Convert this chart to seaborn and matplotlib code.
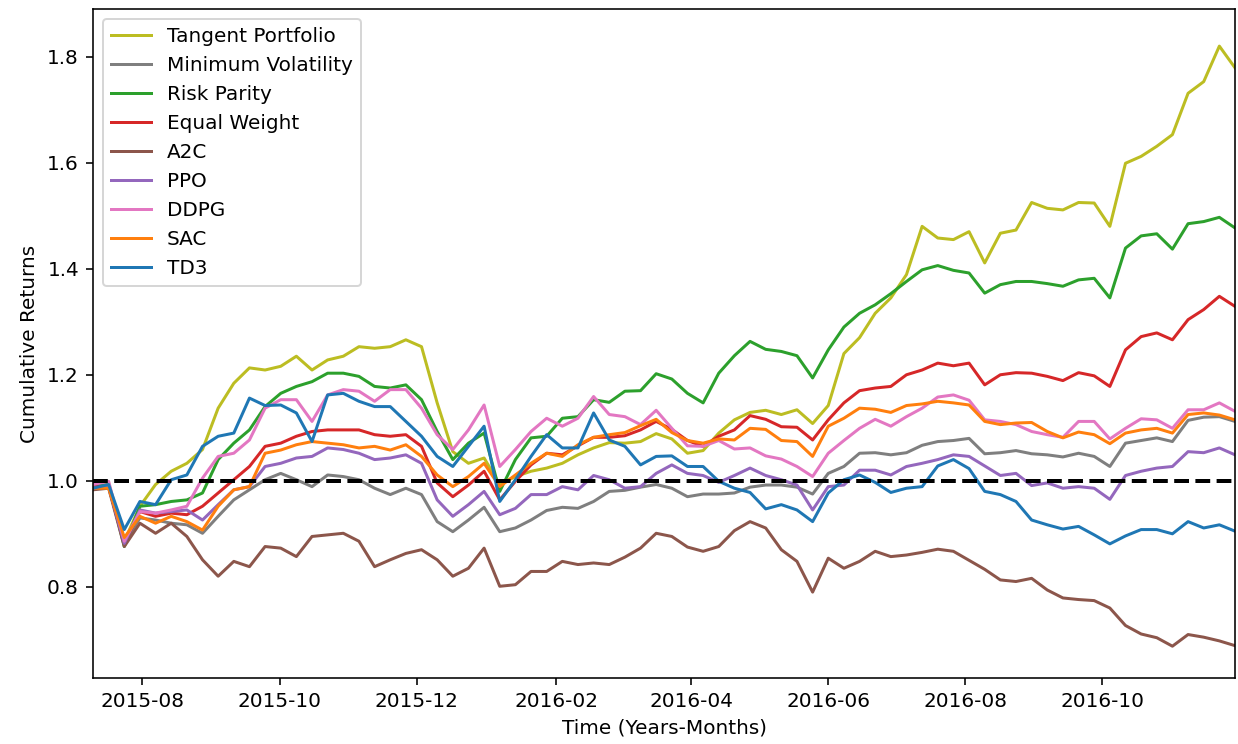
import matplotlib

matplotlib.use("Agg")
import matplotlib.dates as mdates
import matplotlib.pyplot as plt
import pandas as pd
import seaborn as sns

# weekly readings, 2015-07-10 .. 2016-11-29
start_date = "2015-07-10"
end_date = "2016-11-29"

tangent = [
    0.992, 0.996, 0.886, 0.952, 0.993, 1.018, 1.033, 1.059, 1.137, 1.184, 1.213, 1.209,
    1.216, 1.235, 1.209, 1.228, 1.235, 1.253, 1.250, 1.253, 1.266, 1.253, 1.147, 1.055, 1.033,
    1.043, 0.993, 1.008, 1.018, 1.024, 1.033, 1.049, 1.062, 1.072, 1.071, 1.074, 1.089,
    1.079, 1.052, 1.057, 1.090, 1.115, 1.129, 1.133, 1.125, 1.134, 1.108, 1.142, 1.240,
    1.270, 1.316, 1.345, 1.389, 1.480, 1.458, 1.455, 1.470, 1.411, 1.467, 1.473, 1.525,
    1.514, 1.511, 1.525, 1.524, 1.480, 1.599, 1.612, 1.631, 1.653, 1.731, 1.753, 1.820, 1.779,
]
min_vol = [
    0.990, 0.989, 0.882, 0.930, 0.926, 0.920, 0.917, 0.901, 0.933, 0.964, 0.983, 1.002,
    1.014, 1.002, 0.989, 1.011, 1.008, 1.002, 0.986, 0.974, 0.986, 0.974, 0.923, 0.904, 0.926,
    0.950, 0.904, 0.911, 0.926, 0.944, 0.950, 0.948, 0.961, 0.980, 0.982, 0.988, 0.993,
    0.986, 0.970, 0.975, 0.975, 0.977, 0.988, 0.992, 0.992, 0.988, 0.975, 1.014, 1.027,
    1.052, 1.053, 1.049, 1.053, 1.067, 1.074, 1.076, 1.080, 1.051, 1.053, 1.057, 1.051,
    1.049, 1.045, 1.052, 1.046, 1.027, 1.071, 1.076, 1.081, 1.074, 1.114, 1.120, 1.121, 1.112,
]
risk_parity = [
    0.989, 0.993, 0.876, 0.952, 0.955, 0.961, 0.964, 0.977, 1.040, 1.071, 1.096, 1.140,
    1.165, 1.178, 1.187, 1.203, 1.203, 1.197, 1.178, 1.175, 1.181, 1.153, 1.093, 1.040, 1.071,
    1.090, 0.980, 1.040, 1.081, 1.084, 1.118, 1.121, 1.153, 1.148, 1.169, 1.170, 1.202,
    1.192, 1.165, 1.147, 1.203, 1.236, 1.263, 1.248, 1.244, 1.236, 1.194, 1.247, 1.290,
    1.316, 1.332, 1.353, 1.376, 1.398, 1.406, 1.397, 1.392, 1.354, 1.370, 1.376, 1.376,
    1.372, 1.367, 1.379, 1.382, 1.345, 1.439, 1.462, 1.466, 1.437, 1.485, 1.489, 1.497, 1.477,
]
equal_weight = [
    0.989, 0.989, 0.882, 0.942, 0.933, 0.939, 0.936, 0.952, 0.977, 1.002, 1.027, 1.065,
    1.071, 1.084, 1.093, 1.096, 1.096, 1.096, 1.087, 1.084, 1.087, 1.065, 0.996, 0.970, 0.992,
    1.018, 0.964, 0.999, 1.030, 1.052, 1.049, 1.066, 1.082, 1.082, 1.085, 1.096, 1.112,
    1.097, 1.076, 1.065, 1.084, 1.096, 1.123, 1.116, 1.102, 1.101, 1.077, 1.115, 1.147,
    1.170, 1.175, 1.178, 1.200, 1.209, 1.222, 1.217, 1.222, 1.181, 1.200, 1.204, 1.203,
    1.197, 1.189, 1.204, 1.198, 1.178, 1.247, 1.272, 1.279, 1.266, 1.304, 1.323, 1.348, 1.329,
]
a2c = [
    0.983, 0.986, 0.876, 0.920, 0.901, 0.920, 0.895, 0.851, 0.820, 0.848, 0.838, 0.876,
    0.873, 0.857, 0.895, 0.898, 0.901, 0.886, 0.838, 0.851, 0.863, 0.870, 0.851, 0.820, 0.835,
    0.873, 0.801, 0.804, 0.829, 0.829, 0.848, 0.842, 0.845, 0.842, 0.856, 0.873, 0.901,
    0.895, 0.875, 0.867, 0.876, 0.906, 0.923, 0.911, 0.870, 0.848, 0.790, 0.854, 0.835,
    0.848, 0.867, 0.857, 0.860, 0.865, 0.871, 0.867, 0.850, 0.833, 0.813, 0.810, 0.816,
    0.794, 0.779, 0.776, 0.774, 0.760, 0.727, 0.711, 0.704, 0.688, 0.710, 0.705, 0.698, 0.689,
]
ppo = [
    0.986, 0.989, 0.882, 0.945, 0.939, 0.942, 0.945, 0.926, 0.955, 0.983, 0.989, 1.027,
    1.033, 1.043, 1.046, 1.062, 1.059, 1.052, 1.040, 1.043, 1.049, 1.033, 0.964, 0.933, 0.955,
    0.980, 0.936, 0.948, 0.974, 0.974, 0.989, 0.983, 1.010, 1.002, 0.986, 0.989, 1.014,
    1.030, 1.014, 1.010, 0.997, 1.010, 1.024, 1.010, 1.002, 0.992, 0.945, 0.989, 0.992,
    1.020, 1.020, 1.011, 1.027, 1.033, 1.040, 1.049, 1.046, 1.028, 1.010, 1.014, 0.991,
    0.996, 0.986, 0.989, 0.986, 0.965, 1.010, 1.018, 1.024, 1.027, 1.055, 1.053, 1.062, 1.049,
]
ddpg = [
    0.993, 0.999, 0.886, 0.942, 0.939, 0.945, 0.952, 1.005, 1.046, 1.052, 1.077, 1.137,
    1.153, 1.153, 1.112, 1.162, 1.172, 1.169, 1.150, 1.172, 1.172, 1.137, 1.087, 1.059, 1.096,
    1.143, 1.027, 1.059, 1.093, 1.118, 1.103, 1.118, 1.159, 1.125, 1.121, 1.106, 1.133,
    1.099, 1.066, 1.065, 1.076, 1.060, 1.062, 1.047, 1.041, 1.027, 1.008, 1.052, 1.076,
    1.099, 1.116, 1.103, 1.121, 1.137, 1.158, 1.162, 1.152, 1.115, 1.112, 1.106, 1.093,
    1.087, 1.082, 1.112, 1.112, 1.079, 1.099, 1.117, 1.115, 1.099, 1.134, 1.134, 1.147, 1.131,
]
sac = [
    0.986, 0.986, 0.893, 0.933, 0.920, 0.933, 0.923, 0.907, 0.952, 0.983, 0.989, 1.052,
    1.058, 1.068, 1.074, 1.071, 1.068, 1.062, 1.065, 1.058, 1.068, 1.046, 1.011, 0.989, 1.008,
    1.033, 0.989, 1.011, 1.033, 1.052, 1.046, 1.068, 1.082, 1.087, 1.091, 1.104, 1.116,
    1.091, 1.076, 1.071, 1.079, 1.077, 1.099, 1.097, 1.076, 1.074, 1.046, 1.103, 1.118,
    1.137, 1.135, 1.129, 1.142, 1.145, 1.150, 1.147, 1.143, 1.112, 1.106, 1.109, 1.110,
    1.093, 1.081, 1.092, 1.087, 1.070, 1.090, 1.096, 1.099, 1.090, 1.125, 1.128, 1.124, 1.115,
]
td3 = [
    0.986, 0.993, 0.908, 0.961, 0.955, 1.002, 1.011, 1.065, 1.084, 1.090, 1.156, 1.142,
    1.143, 1.128, 1.074, 1.162, 1.165, 1.150, 1.140, 1.140, 1.112, 1.084, 1.046, 1.027, 1.065,
    1.103, 0.961, 1.002, 1.046, 1.087, 1.062, 1.062, 1.128, 1.077, 1.065, 1.030, 1.046,
    1.047, 1.027, 1.027, 0.999, 0.986, 0.978, 0.947, 0.955, 0.945, 0.923, 0.977, 1.002,
    1.011, 0.997, 0.978, 0.986, 0.989, 1.028, 1.040, 1.023, 0.980, 0.974, 0.961, 0.926,
    0.917, 0.909, 0.914, 0.898, 0.881, 0.896, 0.908, 0.908, 0.900, 0.923, 0.911, 0.917, 0.905,
]

series = [
    ("Tangent Portfolio", tangent, "tab:olive"),
    ("Minimum Volatility", min_vol, "tab:gray"),
    ("Risk Parity", risk_parity, "tab:green"),
    ("Equal Weight", equal_weight, "tab:red"),
    ("A2C", a2c, "tab:brown"),
    ("PPO", ppo, "tab:purple"),
    ("DDPG", ddpg, "tab:pink"),
    ("SAC", sac, "tab:orange"),
    ("TD3", td3, "tab:blue"),
]

fig, ax = plt.subplots(figsize=(1238 / 144, 744 / 144), dpi=144)
fig.subplots_adjust(left=93 / 1238, right=1235 / 1238, bottom=1 - 678 / 744, top=1 - 9 / 744)

for name, values, color in series:
    dates = pd.date_range(start_date, end_date, periods=len(values))
    sns.lineplot(x=dates, y=values, ax=ax, color=color, label=name, linewidth=1.5)

ax.axhline(1.0, color="black", linestyle="--", linewidth=2)

ax.set_xlim(pd.Timestamp(start_date), pd.Timestamp(end_date))
ax.set_ylim(0.628, 1.89)
ax.xaxis.set_major_locator(mdates.MonthLocator(bymonth=[2, 4, 6, 8, 10, 12]))
ax.xaxis.set_major_formatter(mdates.DateFormatter("%Y-%m"))
ax.set_xlabel("Time (Years-Months)")
ax.set_ylabel("Cumulative Returns")
ax.legend(loc="upper left")

fig.savefig("out.png", dpi=144)
